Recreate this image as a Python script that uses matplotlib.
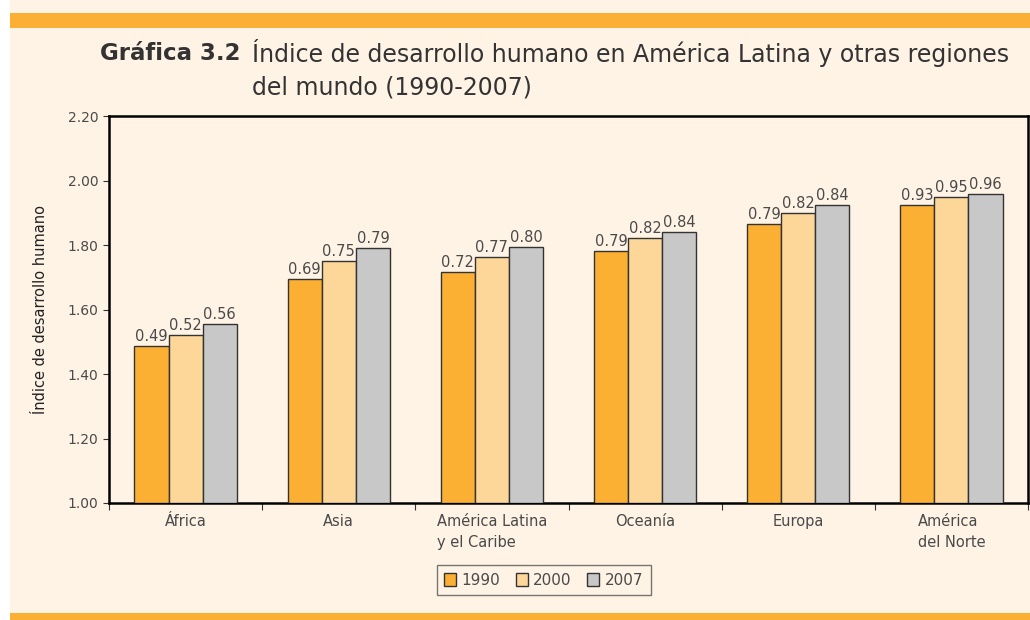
import matplotlib
matplotlib.use("Agg")
import matplotlib.pyplot as plt
import numpy as np
from matplotlib.patches import Rectangle

categories = ["África", "Asia", "América Latina\ny el Caribe", "Oceanía", "Europa", "América\ndel Norte"]
years = ["1990", "2000", "2007"]
# bar heights as drawn on the axis
values_1990 = [1.488, 1.694, 1.715, 1.782, 1.866, 1.923]
values_2000 = [1.520, 1.750, 1.764, 1.823, 1.899, 1.948]
values_2007 = [1.556, 1.790, 1.793, 1.840, 1.924, 1.958]
# labels printed above the bars
labels_1990 = ["0.49", "0.69", "0.72", "0.79", "0.79", "0.93"]
labels_2000 = ["0.52", "0.75", "0.77", "0.82", "0.82", "0.95"]
labels_2007 = ["0.56", "0.79", "0.80", "0.84", "0.84", "0.96"]
yticks = [1.00, 1.20, 1.40, 1.60, 1.80, 2.00, 2.20]

colors = ["#FBB034", "#FDD699", "#C8C8C8"]
bg = "#FEF3E5"
orange = "#FBB034"
txt = "#4a4a4a"

plt.rcParams['font.family'] = ['DejaVu Sans']

fig = plt.figure(figsize=(10.3, 6.2), dpi=100)
fig.patch.set_facecolor("white")

# background panel and bands
fig.patches.append(Rectangle((10/1030, 0), 1 - 10/1030, 1, transform=fig.transFigure,
                             facecolor=bg, edgecolor="none", zorder=-10))
fig.patches.append(Rectangle((10/1030, 1 - 28/620), 1 - 10/1030, 15/620, transform=fig.transFigure,
                             facecolor=orange, edgecolor="none", zorder=-5))
fig.patches.append(Rectangle((10/1030, 0), 1 - 10/1030, 7/620, transform=fig.transFigure,
                             facecolor=orange, edgecolor="none", zorder=-5))

ax = fig.add_axes([109/1030, 117/620, (1028-109)/1030, (503-116)/620])
ax.set_facecolor(bg)

x = np.arange(len(categories))
w = 0.223
series = [values_1990, values_2000, values_2007]
labs = [labels_1990, labels_2000, labels_2007]
for i, (vals, lab, c, yr) in enumerate(zip(series, labs, colors, years)):
    pos = x + (i - 1) * w
    ax.bar(pos, np.array(vals) - 1.0, bottom=1.0, width=w, color=c,
           edgecolor="#333333", linewidth=1.0, label=yr, zorder=3)
    for p, v, t in zip(pos, vals, lab):
        ax.text(p, v + 0.006, t, ha="center", va="bottom", fontsize=10.5, color=txt, zorder=4)

ax.set_xlim(-0.5, len(categories) - 0.5)
ax.set_ylim(1.0, 2.2)
ax.set_yticks(yticks)
ax.set_yticklabels([f"{t:.2f}" for t in yticks], fontsize=10, color=txt)
ax.set_xticks(np.arange(len(categories) + 1) - 0.5)
ax.set_xticklabels([])
ax.set_xticks(x, minor=True)
ax.set_xticklabels(categories, minor=True, fontsize=10.5, color=txt, multialignment="left",
                   linespacing=1.5)
ax.tick_params(axis="x", which="minor", length=0, pad=8)
ax.tick_params(axis="x", which="major", length=5, color="#333333", direction="out")
ax.tick_params(axis="y", length=4, color="#333333", direction="out")
for s in ax.spines.values():
    s.set_linewidth(1.8)
    s.set_color("black")
ax.set_ylabel("Índice de desarrollo humano", fontsize=10.5, color="#222222", labelpad=14)

leg = ax.legend(loc="upper center", bbox_to_anchor=(0.473, -0.16), ncol=3, frameon=True,
                fancybox=False, fontsize=11, handlelength=0.8, handleheight=0.9,
                handletextpad=0.35, columnspacing=1.0, borderpad=0.5, borderaxespad=0)
leg.get_frame().set_edgecolor("#555555")
leg.get_frame().set_facecolor(bg)
leg.get_frame().set_linewidth(1.0)
for t in leg.get_texts():
    t.set_color(txt)

fig.text(241/1030, 1 - 53/620, "Gráfica 3.2", ha="right", va="center", fontsize=16.5,
         fontweight="bold", color="#333333")
fig.text(252/1030, 1 - 53/620, "Índice de desarrollo humano en América Latina y otras regiones",
         ha="left", va="center", fontsize=17, color="#333333")
fig.text(252/1030, 1 - 88/620, "del mundo (1990-2007)", ha="left", va="center", fontsize=17,
         color="#333333")

fig.savefig("out.png", dpi=100, facecolor=fig.get_facecolor())
